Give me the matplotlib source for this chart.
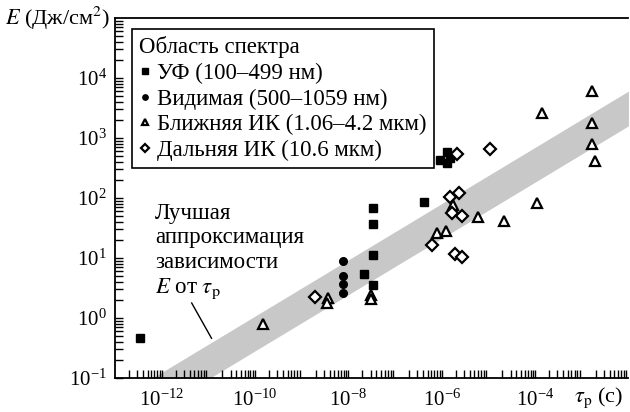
import numpy as np
import matplotlib.pyplot as plt
from matplotlib.lines import Line2D

plt.rcParams['font.family'] = ['Liberation Serif', 'DejaVu Serif']
plt.rcParams['mathtext.fontset'] = 'stix'

# pulse duration (s) and fluence (J/cm^2) per spectral range
uv_tau = [3.4e-13, 2.2e-8, 3.4e-8, 3.4e-8, 3.4e-8, 3.4e-8, 4.2e-7, 1.3e-6, 1.3e-6, 0.93e-6, 1.5e-6]
uv_E = [0.47, 5.4, 68, 37, 11.2, 3.5, 86, 585, 383, 430, 470]

vis_tau = [7.8e-9, 7.8e-9, 7.8e-9, 7.8e-9]
vis_E = [8.9, 5.0, 3.7, 2.6]

nir_tau = [1.45e-10, 3.6e-9, 3.5e-9, 3.1e-8, 3.1e-8, 1.75e-6, 7.9e-7, 1.24e-6,
           6.0e-6, 2.15e-5, 1.1e-4, 1.4e-4, 1.64e-3, 1.64e-3, 1.64e-3, 1.9e-3]
nir_E = [0.79, 2.15, 1.78, 2.4, 2.07, 76, 26, 28,
         48, 41, 83, 2610, 6070, 1780, 794, 414]

fir_tau = [1.97e-9, 2.13e-6, 1.08e-5, 1.51e-6, 2.36e-6, 1.67e-6, 2.73e-6,
           6.2e-7, 1.93e-6, 2.73e-6]
fir_E = [2.24, 541, 656, 104, 121, 56, 50, 16.5, 11.7, 10.4]

# best-fit band: log10(E) = fit_a + fit_b * log10(tau), band thickness in decades
fit_b = 0.469
fit_a = -1 + fit_b * 12.2
band_w = 0.58

fig = plt.figure(figsize=(6.3, 4.12), dpi=100)
ax = fig.add_axes([0.1825, 0.0825, 0.815, 0.8735])

lt = np.linspace(-13, -2, 50)
upper = 10 ** (fit_a + fit_b * lt)
lower = 10 ** (fit_a + fit_b * lt - band_w)
ax.fill_between(10 ** lt, lower, upper, color='#c8c8c8', lw=0, zorder=1)

ax.plot(uv_tau, uv_E, 's', color='black', ms=5.5, zorder=3)
ax.plot(vis_tau, vis_E, 'o', color='black', ms=5.5, zorder=3)
ax.plot(nir_tau, nir_E, '^', mfc='white', mec='black', mew=1.6, ms=7, zorder=3)
ax.plot(fir_tau, fir_E, 'D', mfc='white', mec='black', mew=1.6, ms=6, zorder=3)

ax.set_xscale('log')
ax.set_yscale('log')
ax.set_xlim(1e-13, 1e-2)
ax.set_ylim(1e-1, 1e5)
ax.set_xticks([1e-12, 1e-10, 1e-8, 1e-6, 1e-4])
ax.set_yticks([1e-1, 1e0, 1e1, 1e2, 1e3, 1e4])
ax.xaxis.set_minor_locator(plt.matplotlib.ticker.LogLocator(base=10, subs=np.arange(2, 10), numticks=30))
ax.yaxis.set_minor_locator(plt.matplotlib.ticker.LogLocator(base=10, subs=np.arange(2, 10), numticks=30))
ax.xaxis.set_minor_formatter(plt.NullFormatter())
ax.yaxis.set_minor_formatter(plt.NullFormatter())
ax.tick_params(which='both', direction='in', length=6, width=1, labelsize=15,
               top=False, right=False)
ax.tick_params(axis='x', pad=8)
ax.tick_params(axis='y', pad=6)

ax.spines['right'].set_visible(False)
for s in ['left', 'bottom', 'top']:
    ax.spines[s].set_linewidth(1.3)

fig.text(0.008, 0.956, r'$E$ (Дж/см$^2$)', fontsize=16, va='center', ha='left')
fig.text(0.99, 0.035, r'$\tau_\mathrm{p}$ (с)', fontsize=16, va='center', ha='right')

ax.text(0.078, 0.487, 'Лучшая\nаппроксимация\nзависимости\n' + r'$E$ от $\tau_\mathrm{p}$',
        transform=ax.transAxes, fontsize=16.5, va='top', ha='left', linespacing=1.22)
ax.plot([4.4e-12, 1.17e-11], [1.78, 0.46], color='black', lw=1, zorder=2)

handles = [
    Line2D([], [], ls='', marker='s', color='black', ms=5.5),
    Line2D([], [], ls='', marker='o', color='black', ms=5.5),
    Line2D([], [], ls='', marker='^', mfc='white', mec='black', mew=1.6, ms=7),
    Line2D([], [], ls='', marker='D', mfc='white', mec='black', mew=1.6, ms=6),
]
labels = ['УФ (100–499 нм)', 'Видимая (500–1059 нм)',
          'Ближняя ИК (1.06–4.2 мкм)', 'Дальняя ИК (10.6 мкм)']
leg = ax.legend(handles, labels, title='Область спектра', loc='upper left',
                bbox_to_anchor=(0.033, 0.969), borderaxespad=0, fontsize=16.5,
                title_fontsize=16.5, markerscale=0.7, handlelength=0.5,
                handletextpad=0.3, labelspacing=0.2, borderpad=0.3,
                fancybox=False, framealpha=1, edgecolor='black')
leg._legend_box.align = 'left'
leg.get_frame().set_linewidth(1.2)

fig.savefig('out.png', dpi=100)
